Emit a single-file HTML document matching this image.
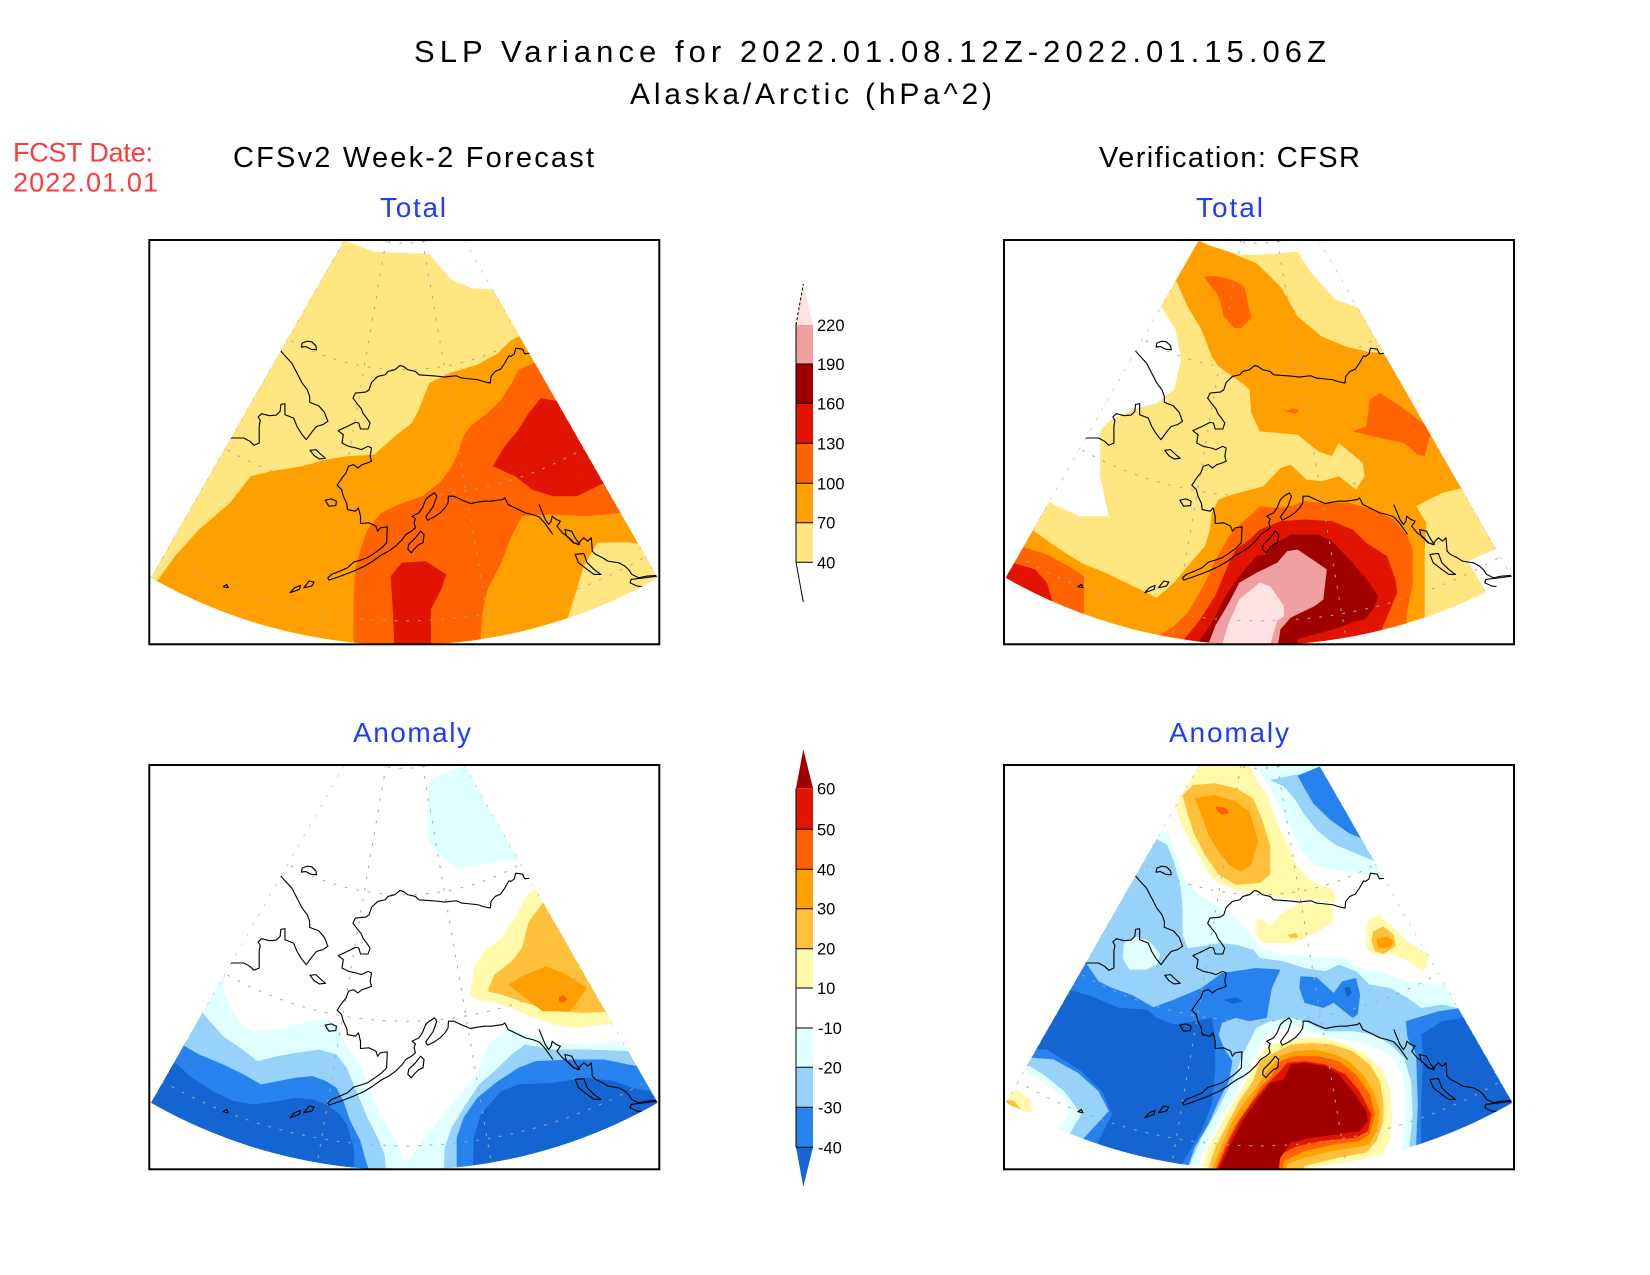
<!DOCTYPE html>
<html>
<head>
<meta charset="utf-8">
<style>
  html,body{margin:0;padding:0;background:#fff;}
  svg{display:block;}
  text{font-family:"Liberation Sans",sans-serif;}
</style>
</head>
<body>
<svg xmlns="http://www.w3.org/2000/svg" xmlns:xlink="http://www.w3.org/1999/xlink" width="1650" height="1275" viewBox="0 0 1650 1275">
<defs>
  <clipPath id="sec" clipPathUnits="userSpaceOnUse">
    <path d="M592.8 30 L30 1045 A1486.6 1534 0 0 0 1505.2 1045 L942.4 30 Z"/>
  </clipPath>
  <g id="grid" fill="none" stroke="#a8a8a8" stroke-width="3" stroke-dasharray="8 26">
    <path d="M714.8 30 L511 1245 M820.4 30 L1024 1245 M592.8 30 L30 1045 M942.4 30 L1505.2 1045"/>
    <ellipse cx="767.6" cy="-285.5" rx="315.4" ry="325.5"/>
    <ellipse cx="767.6" cy="-285.5" rx="683.7" ry="705.5"/>
    <ellipse cx="767.6" cy="-285.5" rx="1052" ry="1085.5"/>
    <ellipse cx="767.6" cy="-285.5" rx="1415" ry="1460"/>
  </g>
  <g id="coast" fill="none" stroke="#000" stroke-width="3.3" stroke-linejoin="round">
    <polyline points="1138,378 1135,370 1118,372 1112,358 1092,355 1088,372 1078,380 1072,378 1060,400 1048,418 1032,425 1020,440 1018,460 1000,456 982,450 955,447 935,445 918,438 900,440 885,442 870,440 850,438 810,435 800,425 778,420 765,410 755,407 740,420 720,425 712,435 690,440 672,458 665,480 655,487 625,490 618,505 630,522 642,537 648,552 658,565 668,580 662,598 640,598 635,580 625,578 602,590 575,603 590,615 586,640 605,650 628,655 642,660 662,650 672,655 668,680 672,695 660,700 645,705 632,715 620,705 605,710 598,730 586,745 572,767 585,780 590,800 600,822 602,840 625,845 634,835 640,860 640,882 665,880 685,890 690,905 698,895 718,892 716,940 702,955 682,970 660,985 640,992 620,998 602,1015 580,1025 556,1035 545,1045 548,1052 582,1040 620,1025 652,1010 676,995 700,977 722,965 742,950 760,932 772,915 788,905 800,895 796,880 800,868 790,860 810,850 820,835 830,810 840,800 856,790 862,800 852,830 842,845 830,862 835,872 855,862 872,850 886,835 895,820 896,800 912,800 932,810 960,822 980,818 1000,815 1020,815 1054,810 1060,805 1070,825 1100,840 1120,850 1140,855 1160,862 1176,880 1190,900 1200,915"/>
    <polyline points="1160,825 1168,845 1178,870 1188,885 1195,875 1198,860 1210,870 1222,875 1212,890 1228,910 1248,925 1262,940 1275,946 1280,935 1290,925 1302,935 1312,925 1315,965 1325,975 1345,985 1360,995 1392,1000 1410,1010 1422,1022 1430,1035 1450,1045 1475,1040 1505,1038"/>
    <polygon points="1235,900 1255,905 1265,925 1278,945 1260,940 1240,920"/>
    <polygon points="1265,975 1290,972 1300,1000 1320,1020 1340,1035 1320,1035 1300,1020 1275,1000"/>
    <polyline points="1505,1040 1470,1045 1428,1050 1425,1060 1445,1070 1468,1072"/>
    <polyline points="405,360 420,378 440,400 450,420 460,440 470,460 485,480 492,500 492,518 518,528 535,548 545,575 530,585 512,590 500,605 482,630 468,612 455,590 445,565 420,555 420,522 408,524 406,545 395,556 375,558 352,552 342,562 348,572 345,590 345,640 330,647 318,635 300,625 258,625"/>
    <polygon points="470,340 485,334 498,336 510,348 512,360 495,358 480,350 468,352"/>
    <polygon points="493,662 510,660 522,672 538,686 520,688 505,678"/>
    <polygon points="537,812 555,808 570,815 568,828 548,830"/>
    <polygon points="780,945 800,925 815,905 825,915 822,940 810,945 795,960 788,970 778,960"/>
    <polygon points="435,1090 448,1075 465,1068 462,1080"/>
    <polygon points="475,1075 490,1055 505,1058 498,1070"/>
    <polygon points="240,1072 250,1065 255,1075"/>
    <polyline points="1085,272 1090,292"/>
    <polyline points="1200,482 1203,490"/>
  </g>
</defs>

<rect x="0" y="0" width="1650" height="1275" fill="#fff"/>

<!-- Titles -->
<text x="414" y="62" font-size="31" textLength="912" lengthAdjust="spacing" fill="#000">SLP Variance for 2022.01.08.12Z-2022.01.15.06Z</text>
<text x="630" y="104" font-size="30" textLength="362" lengthAdjust="spacing" fill="#000">Alaska/Arctic (hPa^2)</text>
<text x="13" y="161.5" font-size="27" textLength="140" lengthAdjust="spacing" fill="#fa3c3c">FCST Date:</text>
<text x="13" y="191.5" font-size="27" textLength="145" lengthAdjust="spacing" fill="#fa3c3c">2022.01.01</text>
<text x="233" y="167" font-size="29" textLength="361" lengthAdjust="spacing" fill="#000">CFSv2 Week-2 Forecast</text>
<text x="1099" y="167" font-size="29" textLength="261" lengthAdjust="spacing" fill="#000">Verification: CFSR</text>
<text x="380" y="217" font-size="28" textLength="66" lengthAdjust="spacing" fill="#1e3cff">Total</text>
<text x="1196" y="217" font-size="28" textLength="67" lengthAdjust="spacing" fill="#1e3cff">Total</text>
<text x="353" y="742" font-size="28" textLength="118" lengthAdjust="spacing" fill="#1e3cff">Anomaly</text>
<text x="1169" y="742" font-size="28" textLength="120" lengthAdjust="spacing" fill="#1e3cff">Anomaly</text>

<!-- ============ PANEL TL : forecast total ============ -->
<g transform="translate(149.3 240) scale(0.34343 0.33276) translate(-25 -30)">
 <g clip-path="url(#sec)">
  <rect x="0" y="0" width="1600" height="1300" fill="#ffa000"/>
  <polygon fill="#ffe680" points="0,1060 50,1052 100,980 170,900 260,820 320,740 380,725 470,710 540,690 600,680 680,675 740,620 790,580 810,540 840,460 900,430 980,405 1040,370 1080,330 1110,315 1200,300 1200,0 0,0"/>
  <polygon fill="#fff" points="560,0 600,35 680,65 840,72 905,150 965,175 1035,180 1200,180 1200,0"/>
  <polygon fill="#ff6400" points="1155,395 1100,420 1080,460 1050,510 1010,550 960,590 940,620 920,680 900,720 870,760 820,800 750,825 700,850 660,900 640,960 625,1020 620,1100 620,1300 985,1300 995,1150 1010,1080 1050,1000 1080,920 1110,860 1200,855 1300,860 1400,850 1500,850 1500,395"/>
  <polygon fill="#ffe680" points="1240,1300 1240,1175 1270,1080 1290,1010 1330,940 1420,938 1460,945 1600,945 1600,1300"/>
  <polygon fill="#e01400" points="1165,505 1215,515 1400,515 1400,760 1350,760 1270,800 1200,800 1140,780 1090,740 1025,710 1060,650 1100,600 1130,550"/>
  <polygon fill="#e01400" points="740,1300 735,1160 728,1040 760,1000 830,995 890,1035 875,1080 845,1140 845,1300"/>
  <use xlink:href="#grid"/>
  <use xlink:href="#coast"/>
 </g>
</g>
<rect x="149.3" y="240" width="510" height="404.3" fill="none" stroke="#000" stroke-width="2"/>

<!-- ============ PANEL TR : verification total ============ -->
<g transform="translate(1004 240) scale(0.34343 0.33276) translate(-25 -30)">
 <g clip-path="url(#sec)">
  <rect x="0" y="0" width="1600" height="1300" fill="#ffa000"/>
  <polygon fill="#ffe680" points="555,80 525,150 560,230 600,300 630,380 650,410 690,440 725,465 740,480 745,550 770,605 880,615 940,665 980,680 1000,640 1070,700 1075,740 1050,780 1000,740 950,755 905,750 860,705 830,715 780,770 690,795 650,810 630,850 625,900 610,950 560,1010 520,1060 470,1105 430,1085 380,1060 320,1030 250,1000 180,955 120,910 100,895 0,895 0,80"/>
  <polygon fill="#ffe680" points="700,60 880,60 920,130 990,210 1060,235 1100,260 1200,370 1140,372 1080,365 1020,350 950,320 880,260 830,170 760,100 700,75"/>
  <polygon fill="#fff" points="560,0 590,30 620,45 700,72 760,75 880,65 920,130 990,210 1060,235 1200,240 1200,0"/>
  <polygon fill="#fff" points="482,230 525,300 540,390 520,480 470,520 400,540 330,575 305,605 305,740 330,860 245,860 150,815 0,815 0,230"/>
  <polygon fill="#ffe680" points="1360,775 1300,790 1225,830 1255,880 1250,960 1250,1300 1600,1300 1600,775"/>
  <polygon fill="#fff" points="1600,900 1465,955 1375,995 1430,1090 1600,1090"/>
  <polygon fill="#ff6400" points="607,140 640,138 690,150 725,170 745,265 715,295 695,295 665,260 650,200"/>
  <polygon fill="#ff6400" points="845,545 870,535 885,545 870,552"/>
  <polygon fill="#ff6400" points="1040,605 1080,590 1090,510 1120,490 1180,530 1270,600 1250,680 1230,675 1190,640 1140,630"/>
  <polygon fill="#ff6400" points="0,945 60,945 150,975 230,1020 258,1040 258,1300 0,1300"/>
  <polygon fill="#e01400" points="0,1000 50,1000 115,1020 150,1060 170,1130 0,1130"/>
  <polygon fill="#ff6400" points="700,895 740,860 770,830 820,835 860,830 900,815 960,820 1030,820 1100,840 1160,870 1200,920 1215,960 1215,1060 1200,1140 1190,1300 470,1300 480,1215 520,1190 560,1150 600,1080 620,1040 640,990 660,960 680,920"/>
  <polygon fill="#e01400" points="545,1300 545,1235 590,1180 640,1100 680,1000 700,960 740,930 770,900 830,875 900,870 980,875 1040,900 1080,940 1140,980 1165,1050 1170,1090 1150,1140 1125,1200 1110,1300"/>
  <polygon fill="#a00000" points="590,1300 590,1240 630,1180 670,1100 710,1040 760,980 790,975 800,950 860,915 940,915 980,935 1040,1000 1080,1050 1115,1100 1100,1140 1075,1170 1050,1175 1000,1195 950,1210 880,1230 880,1300"/>
  <polygon fill="#f0a0a0" points="620,1300 620,1245 640,1190 680,1120 710,1060 760,1030 820,1000 850,965 880,960 965,1020 955,1110 930,1130 860,1165 830,1200 815,1300"/>
  <polygon fill="#ffe2e2" points="660,1300 660,1245 680,1180 710,1110 770,1060 800,1070 840,1130 840,1160 820,1175 785,1300"/>
  <use xlink:href="#grid"/>
  <use xlink:href="#coast"/>
 </g>
</g>
<rect x="1004" y="240" width="510" height="404.3" fill="none" stroke="#000" stroke-width="2"/>

<!-- ============ PANEL BL : forecast anomaly ============ -->
<g transform="translate(149.3 765) scale(0.34343 0.33276) translate(-25 -30)">
 <g clip-path="url(#sec)">
  <rect x="0" y="0" width="1600" height="1300" fill="#fff"/>
  <polygon fill="#e0ffff" points="845,70 950,30 1300,30 1300,320 1050,320 920,340 870,300 838,260 835,150"/>
  <polygon fill="#e0ffff" points="0,605 270,605 245,650 240,700 260,760 300,815 330,830 420,820 480,805 540,790 570,810 590,860 620,900 650,960 665,1010 700,1080 740,1150 770,1225 800,1190 850,1120 900,1055 950,995 990,935 1010,870 1050,835 1090,820 1140,845 1220,870 1300,868 1400,860 1600,860 1600,1300 0,1300"/>
  <polygon fill="#96d2fa" points="0,775 180,775 240,845 290,880 340,920 400,905 450,895 520,885 570,900 600,940 620,990 640,1040 660,1090 690,1150 710,1200 720,1300 880,1300 885,1180 905,1120 940,1060 985,990 1030,950 1080,900 1120,870 1200,885 1300,885 1420,890 1600,890 1600,1300 0,1300"/>
  <polygon fill="#2882ee" points="0,870 120,870 170,900 240,930 300,960 350,990 400,980 450,970 500,965 540,980 570,1000 590,1040 610,1100 640,1160 650,1200 680,1300 920,1300 920,1150 940,1090 980,1030 1040,980 1100,940 1150,920 1250,915 1350,915 1420,930 1600,960 1600,1300 0,1300"/>
  <polygon fill="#1464d2" points="0,915 95,920 150,970 210,1010 270,1040 330,1050 400,1040 450,1030 500,1035 540,1050 580,1080 600,1110 620,1180 625,1300 965,1300 970,1150 990,1080 1050,1010 1100,990 1200,985 1300,970 1380,980 1430,1000 1600,1030 1600,1300 0,1300"/>
  <polygon fill="#fffaaa" points="960,725 970,640 1000,590 1050,550 1090,490 1120,430 1150,395 1300,395 1400,805 1300,815 1270,820 1200,810 1100,770 1050,750 980,735"/>
  <polygon fill="#ffc03c" points="1010,710 1030,660 1080,620 1110,580 1130,500 1175,440 1300,440 1400,770 1290,775 1200,770 1120,745 1050,720"/>
  <polygon fill="#ffa000" points="1070,690 1110,665 1180,635 1240,660 1300,700 1250,770 1170,770 1120,730"/>
  <polygon fill="#ff6000" points="1218,728 1232,722 1242,735 1230,744 1218,740"/>
  <use xlink:href="#grid"/>
  <use xlink:href="#coast"/>
 </g>
</g>
<rect x="149.3" y="765" width="510" height="404.3" fill="none" stroke="#000" stroke-width="2"/>

<!-- ============ PANEL BR : verification anomaly ============ -->
<g transform="translate(1004 765) scale(0.34343 0.33276) translate(-25 -30)">
 <g clip-path="url(#sec)">
  <rect x="0" y="0" width="1600" height="1300" fill="#fff"/>
  <polygon fill="#e0ffff" points="0,230 500,230 525,300 555,380 595,420 640,450 700,490 745,540 770,580 850,600 950,610 1010,605 1060,640 1120,650 1200,680 1260,690 1310,690 1340,740 1600,740 1600,1300 185,1300 185,1120 220,1070 200,1030 140,985 90,950 0,950"/>
  <polygon fill="#96d2fa" points="0,250 465,250 500,270 520,320 540,400 545,470 545,540 560,580 600,575 650,565 700,570 750,585 770,610 840,620 900,640 960,650 1000,630 1050,650 1090,690 1150,700 1200,730 1240,760 1300,750 1345,760 1600,760 1600,1300 215,1300 215,1140 250,1080 200,1010 140,960 100,935 0,930"/>
  <polygon fill="#e0ffff" points="375,565 410,545 450,560 480,600 470,630 440,645 390,645 370,610"/>
  <polygon fill="#2882ee" points="0,610 262,622 300,680 340,700 400,722 460,758 520,735 600,700 660,655 760,640 830,645 805,700 790,790 740,800 700,790 660,805 650,840 665,880 690,920 680,980 650,1040 620,1110 580,1180 540,1300 250,1300 250,1160 330,1070 300,1010 240,955 170,915 0,900"/>
  <polygon fill="#1464d2" points="0,700 215,705 280,725 360,760 440,765 470,790 520,810 580,800 630,790 640,850 640,950 630,1050 600,1130 560,1200 500,1300 300,1300 300,1160 340,1080 310,1010 250,950 150,885 0,880"/>
  <polygon fill="#2882ee" points="888,665 935,668 985,715 1010,680 1050,670 1062,720 1055,780 1040,790 985,745 955,760 900,745 885,700"/>
  <polygon fill="#1464d2" points="665,735 700,728 722,740 690,748"/>
  <polygon fill="#1464d2" points="1015,700 1030,695 1038,715 1025,728"/>
  <polygon fill="#2882ee" points="1195,800 1290,770 1360,760 1600,760 1600,1300 1225,1300 1225,1170 1230,1050 1225,900 1200,850"/>
  <polygon fill="#1464d2" points="1240,840 1300,800 1365,790 1600,790 1600,1300 1240,1300 1240,1050 1245,900"/>
  <polygon fill="#e0ffff" points="760,30 1200,30 1200,400 1140,380 1100,362 1040,355 990,345 930,330 890,290 870,240 845,190 820,140 800,100 780,70"/>
  <polygon fill="#96d2fa" points="800,75 870,60 1200,30 1200,330 1105,320 1060,300 990,270 940,230 900,180 870,130 840,95"/>
  <polygon fill="#2882ee" points="880,62 955,30 1200,30 1200,260 1075,255 1030,235 975,195 925,145 900,100"/>
  <polygon fill="#fffaaa" points="575,30 740,30 760,75 790,120 815,190 845,260 875,330 920,380 975,400 990,420 988,445 935,440 880,435 810,425 760,415 700,405 640,380 610,340 580,280 545,220 525,150 545,90"/>
  <polygon fill="#ffc03c" points="545,120 575,90 640,85 700,100 750,130 775,190 800,270 800,360 770,385 700,390 650,360 610,300 580,240 560,180"/>
  <polygon fill="#ffa000" points="580,130 640,120 700,140 740,170 765,260 745,330 715,350 680,330 650,290 620,240 600,180"/>
  <polygon fill="#ff6000" points="640,155 670,158 682,175 660,180 645,168"/>
  <polygon fill="#fffaaa" points="760,500 775,490 800,515 830,480 880,445 980,450 985,500 940,530 890,555 860,565 780,565 760,540"/>
  <polygon fill="#ffc03c" points="852,540 875,535 882,548 858,550"/>
  <polygon fill="#fffaaa" points="1085,495 1115,480 1150,510 1200,560 1260,600 1255,640 1245,650 1200,620 1160,600 1100,600 1080,580 1080,520"/>
  <polygon fill="#ffc03c" points="1100,530 1130,515 1160,540 1165,575 1130,598 1105,590 1095,560"/>
  <polygon fill="#ffa000" points="1110,552 1140,545 1160,560 1150,578 1115,582"/>
  <polygon fill="#e0ffff" points="560,1300 560,1245 600,1150 640,1080 670,1020 700,960 720,900 740,860 760,820 800,800 860,790 900,800 960,830 1040,830 1100,840 1150,870 1190,910 1210,980 1215,1080 1205,1180 1205,1300"/>
  <polygon fill="#fff" points="585,1300 585,1245 620,1160 660,1090 700,1020 730,960 760,900 780,860 800,835 840,820 880,815 920,835 980,850 1050,860 1110,880 1160,910 1185,960 1195,1040 1190,1130 1180,1190 1180,1300"/>
  <polygon fill="#fffaaa" points="600,1300 600,1240 620,1180 660,1100 700,1030 740,960 770,900 800,870 850,860 900,850 960,850 1020,870 1080,900 1130,950 1150,1010 1155,1080 1150,1150 1130,1200 1130,1300"/>
  <polygon fill="#ffc03c" points="620,1300 620,1240 640,1180 680,1100 710,1040 750,980 770,920 820,890 860,870 920,865 980,870 1040,890 1090,930 1120,980 1130,1050 1130,1100 1110,1160 1080,1195 1000,1210 900,1235 880,1300"/>
  <polygon fill="#ffa000" points="630,1300 630,1245 660,1170 690,1100 720,1050 760,1000 790,950 830,905 870,890 930,885 990,900 1030,920 1070,960 1100,1010 1120,1070 1110,1130 1090,1170 1050,1180 980,1190 900,1210 850,1230 840,1300"/>
  <polygon fill="#ff6000" points="640,1300 640,1245 670,1170 700,1110 740,1050 770,1000 800,970 830,920 870,905 940,905 1000,920 1050,960 1090,1020 1105,1080 1090,1140 1060,1160 990,1170 900,1190 840,1220 830,1300"/>
  <polygon fill="#e01400" points="645,1300 645,1245 680,1160 710,1100 750,1040 790,990 820,960 850,925 900,920 960,930 1020,960 1060,1010 1095,1080 1085,1130 1050,1150 950,1160 880,1175 830,1200 820,1300"/>
  <polygon fill="#a00000" points="650,1300 650,1245 690,1160 720,1100 760,1040 790,1000 800,985 840,975 860,930 900,925 960,935 1000,960 1040,1010 1080,1070 1085,1100 1060,1130 1000,1140 920,1150 860,1165 830,1210 810,1300"/>
  <polygon fill="#fffaaa" points="30,1030 60,1005 100,1035 108,1075 80,1070 40,1050"/>
  <polygon fill="#ffc03c" points="28,1035 55,1040 75,1065 40,1052"/>
  <use xlink:href="#grid"/>
  <use xlink:href="#coast"/>
 </g>
</g>
<rect x="1004" y="765" width="510" height="404.3" fill="none" stroke="#000" stroke-width="2"/>

<!-- ============ Colorbar 1 (Total) ============ -->
<g>
  <polygon points="796,325 813,325 803.3,284" fill="#ffe2e2"/>
  <line x1="796" y1="325" x2="803.3" y2="284" stroke="#000" stroke-width="1" stroke-dasharray="3 2"/>
  <rect x="796" y="325" width="17" height="39" fill="#f0a0a0"/>
  <rect x="796" y="364" width="17" height="39.5" fill="#a00000"/>
  <rect x="796" y="403.3" width="17" height="40" fill="#e01400"/>
  <rect x="796" y="443.3" width="17" height="40" fill="#ff6400"/>
  <rect x="796" y="483.3" width="17" height="39.4" fill="#ffa000"/>
  <rect x="796" y="522.7" width="17" height="39.6" fill="#ffe680"/>
  <g stroke="#000" stroke-width="1">
    <line x1="796" y1="364" x2="813" y2="364"/>
    <line x1="796" y1="403.3" x2="813" y2="403.3"/>
    <line x1="796" y1="443.3" x2="813" y2="443.3"/>
    <line x1="796" y1="483.3" x2="813" y2="483.3"/>
    <line x1="796" y1="522.7" x2="813" y2="522.7"/>
    <line x1="796" y1="562.3" x2="813" y2="562.3"/>
    <line x1="796" y1="323" x2="796" y2="562.3"/>
    <line x1="796" y1="562.3" x2="803.3" y2="602"/>
  </g>
  <g font-size="16.5" fill="#000">
    <text x="817" y="331">220</text>
    <text x="817" y="370">190</text>
    <text x="817" y="409.3">160</text>
    <text x="817" y="449.3">130</text>
    <text x="817" y="489.3">100</text>
    <text x="817" y="528.7">70</text>
    <text x="817" y="568.3">40</text>
  </g>
</g>

<!-- ============ Colorbar 2 (Anomaly) ============ -->
<g>
  <polygon points="796,788.3 813,788.3 803.3,749.3" fill="#a00000"/>
  <rect x="796" y="788.3" width="17" height="41" fill="#e01400"/>
  <rect x="796" y="829.3" width="17" height="40" fill="#ff6000"/>
  <rect x="796" y="869.3" width="17" height="39.4" fill="#ffa000"/>
  <rect x="796" y="908.7" width="17" height="40" fill="#ffc03c"/>
  <rect x="796" y="948.7" width="17" height="39.3" fill="#fffaaa"/>
  <rect x="796" y="1028" width="17" height="39.3" fill="#e0ffff"/>
  <rect x="796" y="1067.3" width="17" height="40" fill="#96d2fa"/>
  <rect x="796" y="1107.3" width="17" height="40" fill="#2882ee"/>
  <polygon points="796,1147.3 813,1147.3 803.3,1186.7" fill="#1464d2"/>
  <g stroke="#000" stroke-width="1">
    <line x1="796" y1="829.3" x2="813" y2="829.3"/>
    <line x1="796" y1="869.3" x2="813" y2="869.3"/>
    <line x1="796" y1="908.7" x2="813" y2="908.7"/>
    <line x1="796" y1="948.7" x2="813" y2="948.7"/>
    <line x1="796" y1="988" x2="813" y2="988"/>
    <line x1="796" y1="1028" x2="813" y2="1028"/>
    <line x1="796" y1="1067.3" x2="813" y2="1067.3"/>
    <line x1="796" y1="1107.3" x2="813" y2="1107.3"/>
    <line x1="796" y1="1147.3" x2="813" y2="1147.3"/>
    <line x1="796" y1="788.3" x2="796" y2="1147.3"/>
  </g>
  <g font-size="16.5" fill="#000">
    <text x="817" y="794.3">60</text>
    <text x="817" y="835.3">50</text>
    <text x="817" y="875.3">40</text>
    <text x="817" y="914.7">30</text>
    <text x="817" y="954.7">20</text>
    <text x="817" y="994">10</text>
    <text x="818" y="1034">-10</text>
    <text x="818" y="1073.3">-20</text>
    <text x="818" y="1113.3">-30</text>
    <text x="818" y="1153.3">-40</text>
  </g>
</g>
</svg>
</body>
</html>
